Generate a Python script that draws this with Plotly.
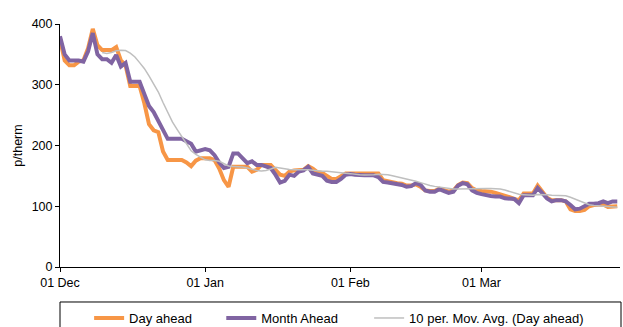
import pandas as pd
import plotly.graph_objects as go

dates = pd.date_range("2022-12-01", "2023-03-30", freq="D")

day_ahead = [
    375, 340, 332, 332, 338, 340, 360, 392, 365, 357,
    357, 357, 362, 340, 332, 298, 298, 298, 270, 235,
    225, 222, 190, 176, 176, 176, 176, 172, 166, 175,
    179, 179, 179, 176, 162, 143, 132, 165, 165, 165,
    165, 157, 160, 168, 168, 168, 160, 152, 150, 157,
    159, 160, 160, 166, 162, 156, 155, 150, 145, 145,
    150, 154, 154, 154, 154, 154, 154, 155, 154, 143,
    141, 140, 138, 137, 134, 134, 136, 132, 126, 125,
    125, 129, 126, 124, 126, 135, 139, 138, 130, 126,
    125, 125, 124, 122, 120, 117, 115, 112, 110, 121,
    121, 121, 134, 124, 114, 110, 110, 110, 108, 95,
    92, 92, 94, 100, 102, 103, 103, 99, 100, 100,
]

month_ahead = [
    380, 350, 340, 340, 340, 338, 355, 385, 350, 342,
    342, 336, 349, 330, 336, 305, 305, 305, 285, 265,
    255, 240, 225, 211, 211, 211, 211, 207, 203, 190,
    192, 194, 192, 184, 172, 163, 165, 187, 187, 180,
    171, 174, 168, 168, 166, 163, 152, 139, 142, 152,
    150, 157, 159, 165, 154, 152, 150, 142, 140, 140,
    145, 152, 153, 152, 151, 151, 151, 151, 148, 140,
    139, 138, 137, 135, 132, 133, 138, 135, 126, 124,
    124, 128, 125, 122, 124, 134, 138, 136, 126, 122,
    120, 118, 117, 116, 116, 113, 112, 112, 105, 118,
    118, 118, 130, 122, 113, 108, 110, 110, 108, 102,
    95, 96, 100, 104, 104, 105, 108, 105, 108, 108,
]

# Excel-style 10-period moving-average trendline of the Day ahead series
mov_avg = pd.Series(day_ahead).rolling(10).mean().tolist()

tick_dates = ["2022-12-01", "2023-01-01", "2023-02-01", "2023-03-01"]
tick_text = ["01 Dec", "01 Jan", "01 Feb", "01 Mar"]
y_ticks = [0, 100, 200, 300, 400]

FONT = "Liberation Sans, Arial, sans-serif"
ORANGE = "#F79646"
PURPLE = "#8064A2"
GREY = "#BFBFBF"

fig = go.Figure()
fig.add_trace(go.Scatter(x=dates, y=day_ahead, mode="lines", name="Day ahead",
                         line=dict(color=ORANGE, width=4), legend="legend"))
fig.add_trace(go.Scatter(x=dates, y=month_ahead, mode="lines", name="Month Ahead",
                         line=dict(color=PURPLE, width=4), legend="legend2"))
fig.add_trace(go.Scatter(x=dates, y=mov_avg, mode="lines",
                         name="10 per. Mov. Avg. (Day ahead)",
                         line=dict(color=GREY, width=1.5), legend="legend3"))

leg_common = dict(orientation="h", yanchor="middle", xanchor="left",
                  font=dict(family=FONT, size=13, color="#000"),
                  bgcolor="rgba(0,0,0,0)", borderwidth=0)

fig.update_layout(
    width=623, height=327,
    margin=dict(l=60, r=3, t=24, b=60, autoexpand=False),
    paper_bgcolor="white", plot_bgcolor="white",
    font=dict(family=FONT, size=13, color="#000"),
    showlegend=True,
    legend=dict(x=0.052, y=-0.21, **leg_common),
    legend2=dict(x=0.288, y=-0.21, **leg_common),
    legend3=dict(x=0.552, y=-0.21, **leg_common),
    xaxis=dict(
        type="date",
        range=["2022-12-01", "2023-03-30 14:00"],
        tickvals=tick_dates, ticktext=tick_text,
        showline=True, linecolor="#000", linewidth=1,
        ticks="outside", ticklen=4, tickcolor="#000",
        showgrid=False, zeroline=False,
        tickfont=dict(family=FONT, size=12.5, color="#000"),
    ),
    yaxis=dict(
        range=[0, 400], tickvals=y_ticks,
        showline=True, linecolor="#000", linewidth=1,
        ticks="outside", ticklen=4, tickcolor="#000",
        showgrid=False, zeroline=False,
        tickfont=dict(family=FONT, size=12.5, color="#000"),
        title=dict(text="p/therm", font=dict(family=FONT, size=12.5, color="#000"),
                   standoff=6),
    ),
    shapes=[dict(type="rect", xref="paper", yref="paper",
                 x0=0, x1=1.0018, y0=-0.144, y1=-0.4,
                 line=dict(color="#000", width=1), fillcolor="rgba(0,0,0,0)",
                 layer="above")],
)

fig.write_html("out.html")
